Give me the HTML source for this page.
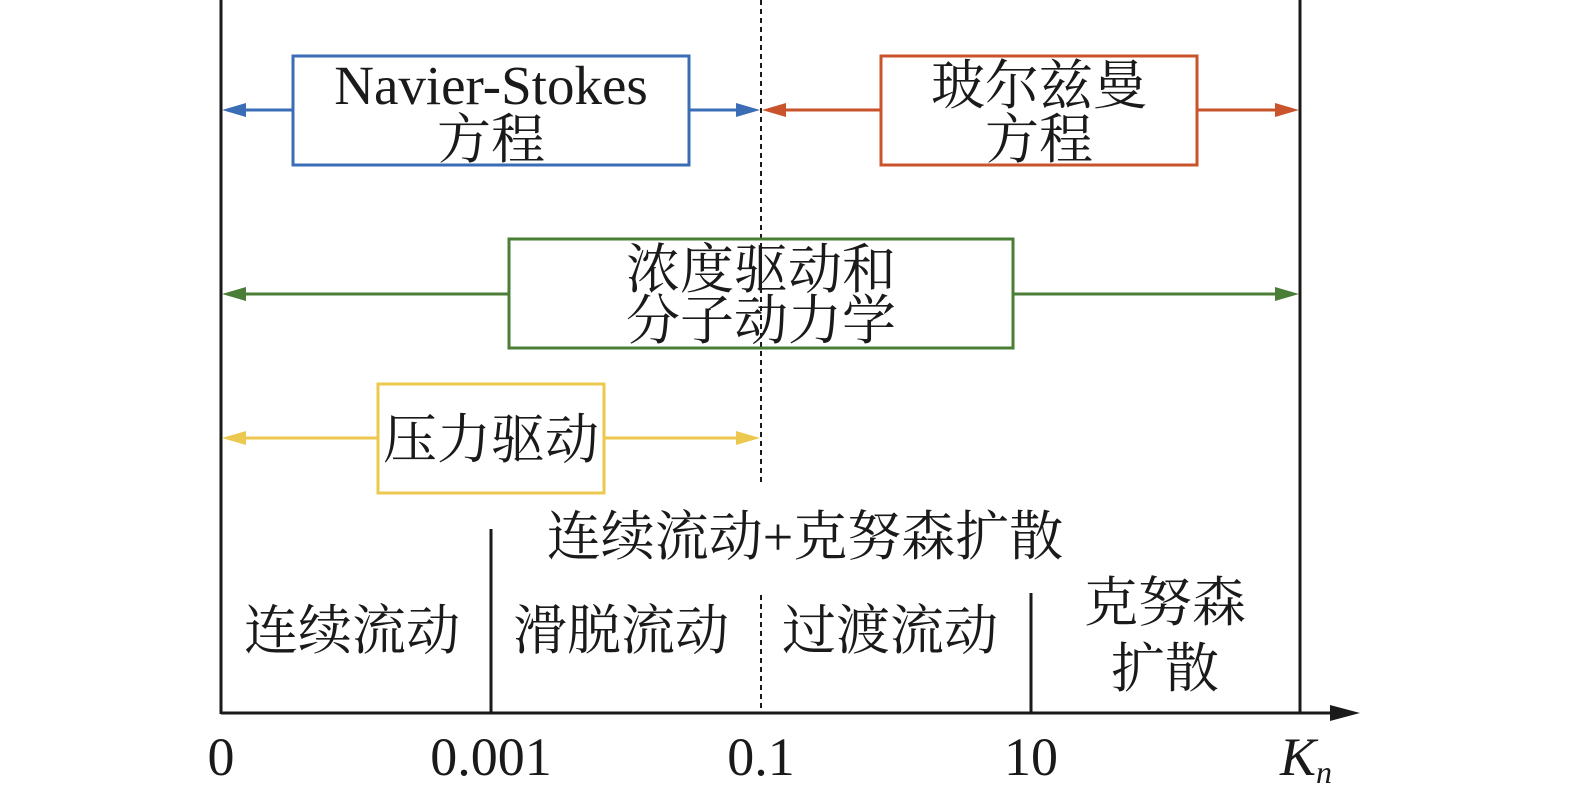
<!DOCTYPE html>
<html><head><meta charset="utf-8"><style>
html,body{margin:0;padding:0;background:#fff;}
svg text{font-family:"Liberation Serif","Noto Serif CJK SC",serif;fill:#1a1a1a;}
</style></head><body>
<svg width="1575" height="805" viewBox="0 0 1575 805" xmlns="http://www.w3.org/2000/svg">
<g stroke="#1a1a1a" stroke-width="3">
<line x1="221" y1="0" x2="221" y2="714"/>
<line x1="1300" y1="0" x2="1300" y2="714"/>
<line x1="491" y1="529" x2="491" y2="714"/>
<line x1="1031" y1="593" x2="1031" y2="714"/>
<line x1="221" y1="713" x2="1340" y2="713"/>
</g>
<polygon points="1360,713 1330,705 1330,721" fill="#1a1a1a"/>
<g stroke="#1a1a1a" stroke-width="2" stroke-dasharray="5,4">
<line x1="761" y1="0" x2="761" y2="482"/>
<line x1="761" y1="595" x2="761" y2="713"/>
</g>
<g stroke="#3a6db5" stroke-width="3" fill="none">
<rect x="293" y="56" width="396" height="109"/>
<line x1="240" y1="110" x2="293" y2="110"/>
<line x1="689" y1="110" x2="740" y2="110"/>
</g>
<polygon points="222,110 246,103 246,117" fill="#3a6db5"/>
<polygon points="760,110 736,103 736,117" fill="#3a6db5"/>
<g stroke="#c9532a" stroke-width="3" fill="none">
<rect x="881" y="56" width="316" height="109"/>
<line x1="780" y1="110" x2="881" y2="110"/>
<line x1="1197" y1="110" x2="1280" y2="110"/>
</g>
<polygon points="762,110 786,103 786,117" fill="#c9532a"/>
<polygon points="1299,110 1275,103 1275,117" fill="#c9532a"/>
<g stroke="#4a7d35" stroke-width="3" fill="none">
<rect x="509" y="239" width="504" height="109"/>
<line x1="240" y1="294" x2="509" y2="294"/>
<line x1="1013" y1="294" x2="1280" y2="294"/>
</g>
<polygon points="222,294 246,287 246,301" fill="#4a7d35"/>
<polygon points="1299,294 1275,287 1275,301" fill="#4a7d35"/>
<g stroke="#ecc84f" stroke-width="3" fill="none">
<rect x="378" y="384" width="226" height="109"/>
<line x1="240" y1="438" x2="378" y2="438"/>
<line x1="604" y1="438" x2="740" y2="438"/>
</g>
<polygon points="222,438 246,431 246,445" fill="#ecc84f"/>
<polygon points="760,438 736,431 736,445" fill="#ecc84f"/>
<g font-size="54" text-anchor="middle">
<text x="491" y="104" font-size="55">Navier-Stokes</text>
<text x="491" y="158">方程</text>
<text x="1039" y="104">玻尔兹曼</text>
<text x="1039" y="158">方程</text>
<text x="761" y="288">浓度驱动和</text>
<text x="761" y="339">分子动力学</text>
<text x="491" y="458">压力驱动</text>
<text x="805" y="555">连续流动+克努森扩散</text>
<text x="352" y="649">连续流动</text>
<text x="621" y="649">滑脱流动</text>
<text x="890" y="649">过渡流动</text>
<text x="1165" y="621">克努森</text>
<text x="1165" y="687">扩散</text>
<text x="221" y="775">0</text>
<text x="491" y="775">0.001</text>
<text x="761" y="775">0.1</text>
<text x="1031" y="775">10</text>
</g>
<text x="1280" y="775" font-size="54" font-style="italic">K</text>
<text x="1316" y="783" font-size="32" font-style="italic">n</text>
</svg>
</body></html>
